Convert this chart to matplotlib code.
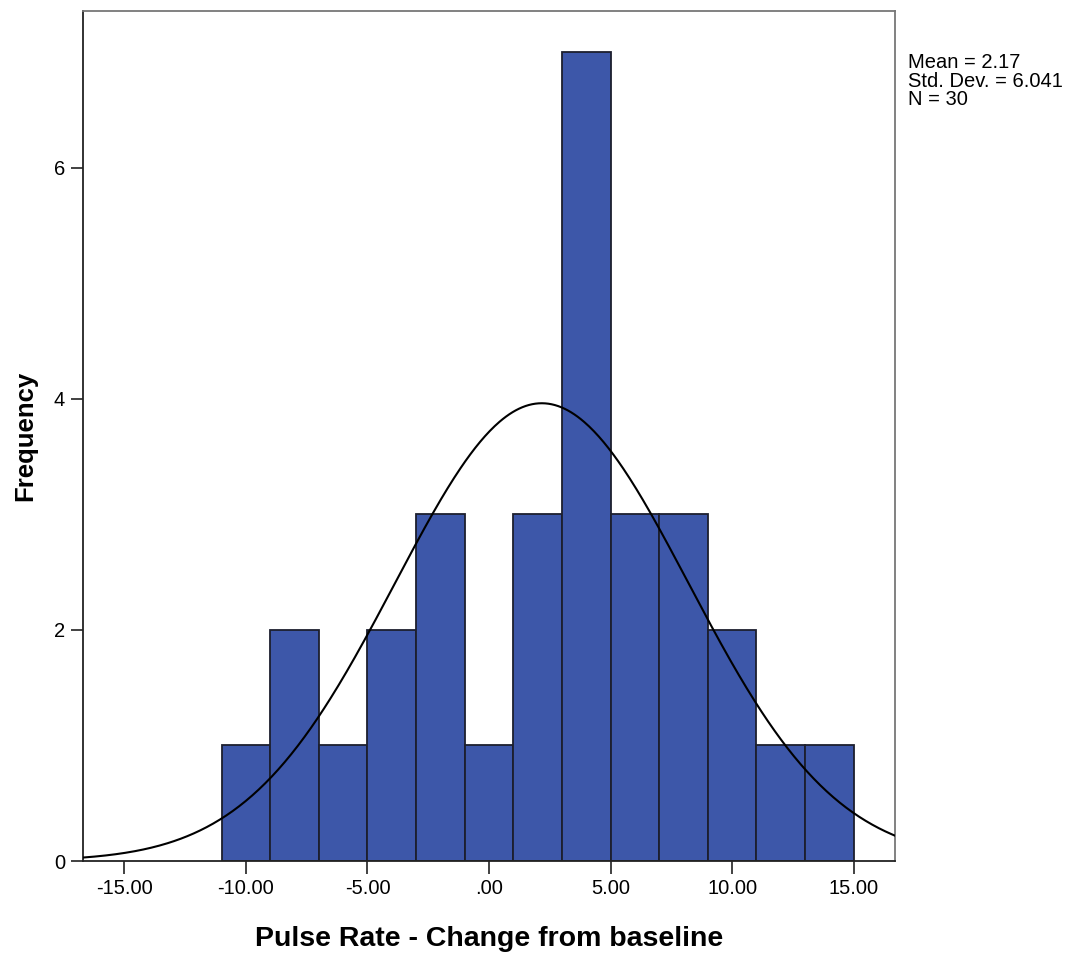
import numpy as np
import matplotlib
matplotlib.use("Agg")
import matplotlib.pyplot as plt

# Data
bin_edges = [-11, -9, -7, -5, -3, -1, 1, 3, 5, 7, 9, 11, 13, 15]
counts = [1, 2, 1, 2, 3, 1, 3, 7, 3, 3, 2, 1, 1]
mean = 2.17
std = 6.041
n = 30
xticks = [-15, -10, -5, 0, 5, 10, 15]
xtick_labels = ["-15.00", "-10.00", "-5.00", ".00", "5.00", "10.00", "15.00"]
yticks = [0, 2, 4, 6]

plt.rcParams['font.family'] = ['Liberation Sans', 'DejaVu Sans']

fig = plt.figure(figsize=(10.74, 9.55), dpi=100)
ax = fig.add_axes([0.0773, 0.0984, 0.7560, 0.8904])

edges = np.array(bin_edges, dtype=float)
widths = np.diff(edges)
ax.bar(edges[:-1], counts, width=widths, align='edge', color='#3D57A9',
       edgecolor='#1c1f2e', linewidth=1.3, zorder=2)

xlim = (-16.7, 16.7)
xs = np.linspace(xlim[0], xlim[1], 500)
bw = widths[0]
ys = n * bw / (std * np.sqrt(2 * np.pi)) * np.exp(-0.5 * ((xs - mean) / std) ** 2)
ax.plot(xs, ys, color='black', linewidth=1.5, zorder=3)

ax.set_xlim(*xlim)
ax.set_ylim(0, 7.36)
ax.set_xticks(xticks)
ax.set_xticklabels(xtick_labels)
ax.set_yticks(yticks)
ax.tick_params(axis='both', direction='out', length=9, width=1.3, labelsize=14.5,
               color='#333333', pad=4)
for s in ['left', 'bottom']:
    ax.spines[s].set_color('#222222')
    ax.spines[s].set_linewidth(1.3)
for s in ['top', 'right']:
    ax.spines[s].set_color('#777777')
    ax.spines[s].set_linewidth(1.3)

ax.set_xlabel('Pulse Rate - Change from baseline', fontsize=20.5, fontweight='bold', labelpad=20)
ax.set_ylabel('Frequency', fontsize=18.5, fontweight='bold', labelpad=12)

fig.text(0.8455, 0.9445, 'Mean = 2.17\nStd. Dev. = 6.041\nN = 30', fontsize=14.5,
         va='top', ha='left', linespacing=0.97)

fig.savefig('out.png', dpi=100)
